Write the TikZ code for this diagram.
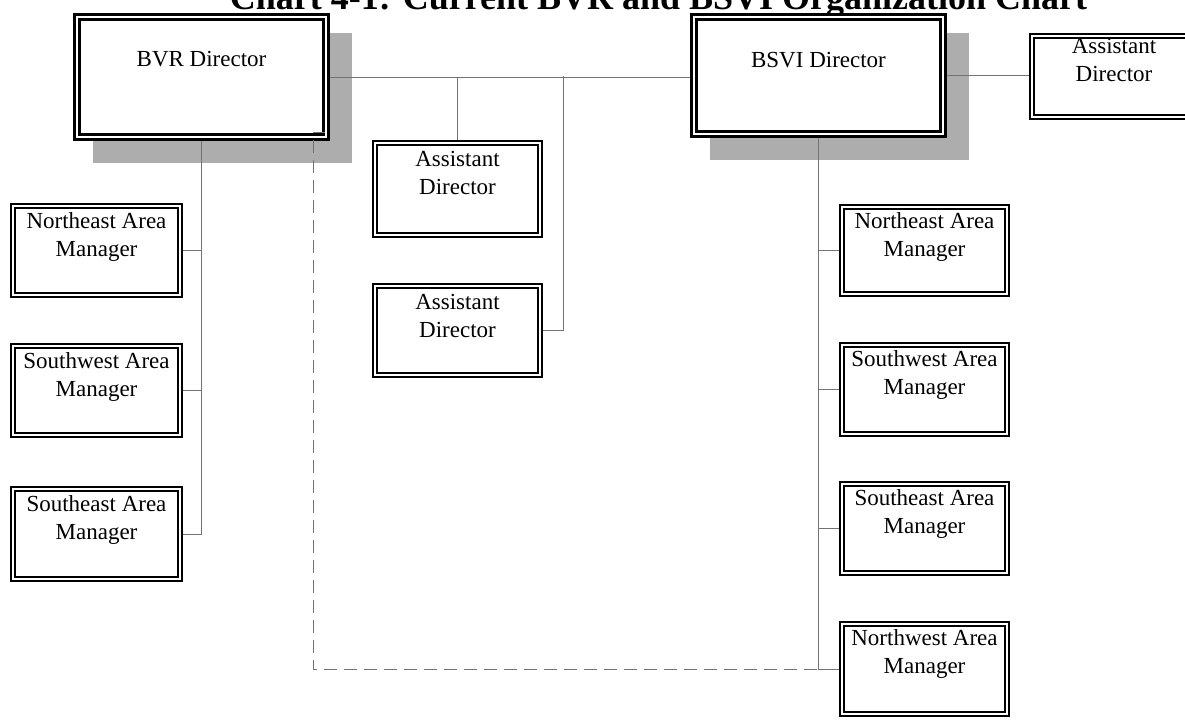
\documentclass[tikz,border=0pt]{standalone}
\usepackage{fontspec}
\setmainfont{Liberation Serif}
\usetikzlibrary{backgrounds}
\definecolor{linegray}{gray}{0.45}
\definecolor{shadowgray}{gray}{0.68}
\begin{document}
\begin{tikzpicture}[x=0.5pt,y=-0.5pt,
  unitbox/.style={draw=black, fill=white, double=white, line width=1.1pt,
    double distance=0.8pt, inner sep=0pt, minimum width=82.5pt, minimum height=44.5pt},
  headbox/.style={unitbox, line width=1.35pt, double distance=1.3pt,
    minimum width=124.5pt},
  lbl/.style={font=\fontsize{11.5}{14}\selectfont, align=center, anchor=base, inner sep=0pt},
  titletext/.style={font=\fontsize{18}{21}\selectfont\bfseries, anchor=base, inner sep=0pt},
  link/.style={draw=linegray, line width=0.5pt},
  dotlink/.style={draw=linegray, line width=0.5pt, dash pattern=on 6.5pt off 3.5pt},
  shade/.style={fill=shadowgray}
]
\useasboundingbox (0,0) rectangle (1185,720);
\clip (0,0) rectangle (1185,720);

% title, partly above the page edge
\node[titletext] (title) at (658.5,9.5) {Chart 4-1: Current BVR and BSVI Organization Chart};

% directors
\node[headbox, minimum height=60pt] (bvr) at (201.5,77) {};
\node[headbox, minimum height=58.5pt] (bsvi) at (818.5,75.5) {};

% assistant directors
\node[unitbox, minimum width=82pt, minimum height=40.5pt] (ad0) at (1114,76.5) {};
\node[unitbox, minimum height=46pt] (ad1) at (457.5,189) {};
\node[unitbox] (ad2) at (457.5,330.5) {};

% BVR area managers
\node[unitbox, minimum width=83.5pt] (lne) at (96.5,250.5) {};
\node[unitbox, minimum width=83.5pt] (lsw) at (96.5,390.5) {};
\node[unitbox, minimum width=83.5pt, minimum height=45pt] (lse) at (96.5,534) {};

% BSVI area managers
\node[unitbox, minimum height=43.5pt] (rne) at (924.5,250.5) {};
\node[unitbox] (rsw) at (924.5,389.5) {};
\node[unitbox] (rse) at (924.5,528.5) {};
\node[unitbox, minimum height=45pt] (rnw) at (924.5,669) {};

% labels (two-line labels are anchored on their last baseline)
\node[lbl] (bvrT) at ([shift={(0,51)}]bvr.north) {BVR Director};
\node[lbl] (bsviT) at ([shift={(0,52)}]bsvi.north) {BSVI Director};
\node[lbl] (ad0T) at ([shift={(0,47)}]ad0.north) {Assistant\\Director};
\node[lbl] (ad1T) at ([shift={(0,53)}]ad1.north) {Assistant\\Director};
\node[lbl] (ad2T) at ([shift={(0,53)}]ad2.north) {Assistant\\Director};
\node[lbl] (lneT) at ([shift={(0,52)}]lne.north) {Northeast Area\\Manager};
\node[lbl] (lswT) at ([shift={(0,52)}]lsw.north) {Southwest Area\\Manager};
\node[lbl] (lseT) at ([shift={(0,52)}]lse.north) {Southeast Area\\Manager};
\node[lbl] (rneT) at ([shift={(0,51)}]rne.north) {Northeast Area\\Manager};
\node[lbl] (rswT) at ([shift={(0,51)}]rsw.north) {Southwest Area\\Manager};
\node[lbl] (rseT) at ([shift={(0,51)}]rse.north) {Southeast Area\\Manager};
\node[lbl] (rnwT) at ([shift={(0,51)}]rnw.north) {Northwest Area\\Manager};

\begin{scope}[on background layer]
  % drop shadows of the director boxes
  \fill[shade] ([shift={(17,17)}]bvr.north west) rectangle ([shift={(25,25)}]bvr.south east);
  \fill[shade] ([shift={(17,17)}]bsvi.north west) rectangle ([shift={(25,25)}]bsvi.south east);

  % solid reporting lines
  \coordinate (j2) at (563,76);
  \draw[link] (bvr.east) -- (bvr.east -| bsvi.west);
  \draw[link] (ad1.north) -- (ad1.north |- bvr.east);
  \draw[link] (ad2.east) -| (j2);
  \draw[link] (bsvi.east) -- (bsvi.east -| ad0.west);

  \draw[link] (bvr.south) |- (lse.east);
  \draw[link] (lne.east) -- (lne.east -| bvr.south);
  \draw[link] (lsw.east) -- (lsw.east -| bvr.south);

  \draw[link] (bsvi.south) |- (rnw.west);
  \draw[link] (rne.west) -- (rne.west -| bsvi.south);
  \draw[link] (rsw.west) -- (rsw.west -| bsvi.south);
  \draw[link] (rse.west) -- (rse.west -| bsvi.south);
\end{scope}

% dashed line from the BVR director to the BSVI manager column
\coordinate (dstart) at (325,132);
\coordinate (dtop) at (313,132);
\draw[dotlink] (dstart) -- (dtop) |- (rnw.west -| bsvi.south);
\end{tikzpicture}
\end{document}
